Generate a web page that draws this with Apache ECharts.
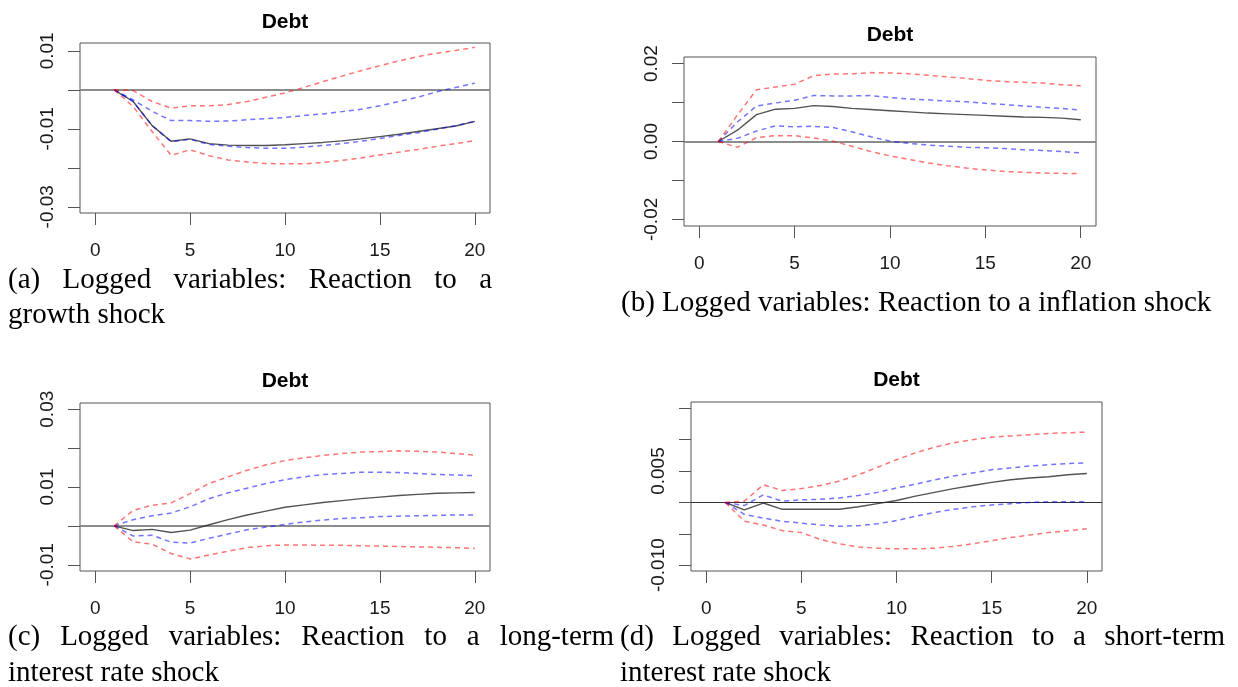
<!DOCTYPE html>
<html>
<head>
<meta charset="utf-8">
<title>Debt impulse responses</title>
<script src="https://cdn.jsdelivr.net/npm/echarts@6.0.0/dist/echarts.min.js"></script>
<style>
  html, body { margin: 0; padding: 0; background: #ffffff; }
  #chart { width: 1238px; height: 687px; }
</style>
</head>
<body>
<div id="chart"></div>
<script>
// Horizon (periods after the shock)
const periods = [1, 2, 3, 4, 5, 6, 7, 8, 9, 10, 11, 12, 13, 14, 15, 16, 17, 18, 19, 20];
const xTicks = [0, 5, 10, 15, 20];

// (a) Response of debt to a growth shock
const growthIrf     = [0, -0.0030, -0.0092, -0.0132, -0.0126, -0.0138, -0.0142, -0.0143, -0.0143, -0.0141, -0.0138, -0.0135, -0.0131, -0.0126, -0.0120, -0.0114, -0.0107, -0.0100, -0.0093, -0.0081];
const growthInnerLo = [0, -0.0030, -0.0092, -0.0133, -0.0127, -0.0140, -0.0145, -0.0148, -0.0150, -0.0150, -0.0147, -0.0143, -0.0138, -0.0132, -0.0125, -0.0117, -0.0110, -0.0101, -0.0092, -0.0081];
const growthInnerHi = [0, -0.0026, -0.0055, -0.0079, -0.0079, -0.0081, -0.0080, -0.0077, -0.0074, -0.0071, -0.0066, -0.0062, -0.0056, -0.0050, -0.0041, -0.0030, -0.0019, -0.0005, 0.0006, 0.0017];
const growthOuterLo = [0, -0.0043, -0.0107, -0.0168, -0.0154, -0.0169, -0.0180, -0.0185, -0.0189, -0.0190, -0.0190, -0.0186, -0.0181, -0.0175, -0.0167, -0.0160, -0.0153, -0.0145, -0.0138, -0.0130];
const growthOuterHi = [0, -0.0002, -0.0030, -0.0047, -0.0041, -0.0041, -0.0038, -0.0030, -0.0019, -0.0008, 0.0006, 0.0021, 0.0035, 0.0049, 0.0062, 0.0074, 0.0085, 0.0094, 0.0101, 0.0109];

// (b) Response of debt to an inflation shock
const inflationIrf     = [0, 0.0029, 0.0069, 0.0083, 0.0085, 0.0092, 0.0090, 0.0085, 0.0082, 0.0079, 0.0076, 0.0073, 0.0071, 0.0069, 0.0067, 0.0065, 0.0063, 0.0062, 0.0060, 0.0056];
const inflationInnerLo = [0, 0.0008, 0.0027, 0.0040, 0.0038, 0.0039, 0.0036, 0.0025, 0.0012, 0.0001, -0.0005, -0.0009, -0.0012, -0.0015, -0.0016, -0.0018, -0.0021, -0.0023, -0.0026, -0.0029];
const inflationInnerHi = [0, 0.0050, 0.0091, 0.0099, 0.0106, 0.0118, 0.0117, 0.0117, 0.0118, 0.0113, 0.0109, 0.0107, 0.0104, 0.0102, 0.0098, 0.0095, 0.0091, 0.0088, 0.0085, 0.0081];
const inflationOuterLo = [0, -0.0015, 0.0010, 0.0015, 0.0015, 0.0009, 0.0001, -0.0012, -0.0026, -0.0037, -0.0046, -0.0055, -0.0062, -0.0068, -0.0073, -0.0077, -0.0079, -0.0081, -0.0082, -0.0082];
const inflationOuterHi = [0, 0.0068, 0.0133, 0.0140, 0.0147, 0.0169, 0.0173, 0.0174, 0.0177, 0.0176, 0.0174, 0.0170, 0.0166, 0.0162, 0.0157, 0.0154, 0.0152, 0.0150, 0.0146, 0.0143];

// (c) Response of debt to a long-term interest rate shock
const longRateIrf     = [0, -0.0012, -0.0009, -0.0017, -0.0011, 0.0003, 0.0016, 0.0028, 0.0038, 0.0048, 0.0054, 0.0060, 0.0065, 0.0070, 0.0074, 0.0078, 0.0081, 0.0084, 0.0085, 0.0086];
const longRateInnerLo = [0, -0.0026, -0.0024, -0.0042, -0.0044, -0.0032, -0.0021, -0.0010, -0.0003, 0.0004, 0.0010, 0.0015, 0.0019, 0.0021, 0.0024, 0.0025, 0.0026, 0.0027, 0.0028, 0.0028];
const longRateInnerHi = [0, 0.0016, 0.0026, 0.0033, 0.0049, 0.0070, 0.0085, 0.0097, 0.0109, 0.0119, 0.0126, 0.0132, 0.0135, 0.0138, 0.0138, 0.0137, 0.0135, 0.0132, 0.0131, 0.0129];
const longRateOuterLo = [0, -0.0041, -0.0047, -0.0071, -0.0085, -0.0075, -0.0065, -0.0056, -0.0051, -0.0049, -0.0049, -0.0050, -0.0050, -0.0051, -0.0052, -0.0053, -0.0054, -0.0055, -0.0056, -0.0058];
const longRateOuterHi = [0, 0.0040, 0.0053, 0.0059, 0.0083, 0.0109, 0.0126, 0.0143, 0.0157, 0.0168, 0.0175, 0.0181, 0.0186, 0.0190, 0.0191, 0.0193, 0.0192, 0.0190, 0.0186, 0.0182];

// (d) Response of debt to a short-term interest rate shock
const shortRateIrf     = [0, -0.0012, -0.0001, -0.0011, -0.0011, -0.0011, -0.0011, -0.0007, -0.0002, 0.0003, 0.0010, 0.0016, 0.0022, 0.0027, 0.0032, 0.0036, 0.0039, 0.0041, 0.0044, 0.0046];
const shortRateInnerLo = [0, -0.0019, -0.0025, -0.0030, -0.0033, -0.0036, -0.0038, -0.0037, -0.0034, -0.0029, -0.0022, -0.0016, -0.0011, -0.0007, -0.0004, -0.0002, 0.0000, 0.0001, 0.0001, 0.0001];
const shortRateInnerHi = [0, -0.0005, 0.0012, 0.0002, 0.0004, 0.0005, 0.0007, 0.0011, 0.0016, 0.0023, 0.0029, 0.0036, 0.0042, 0.0047, 0.0052, 0.0055, 0.0058, 0.0060, 0.0062, 0.0063];
const shortRateOuterLo = [0, -0.0030, -0.0036, -0.0045, -0.0048, -0.0059, -0.0066, -0.0071, -0.0073, -0.0074, -0.0074, -0.0073, -0.0070, -0.0066, -0.0061, -0.0056, -0.0052, -0.0048, -0.0045, -0.0042];
const shortRateOuterHi = [0, 0.0002, 0.0028, 0.0019, 0.0022, 0.0027, 0.0034, 0.0044, 0.0056, 0.0068, 0.0079, 0.0088, 0.0095, 0.0100, 0.0104, 0.0106, 0.0108, 0.0110, 0.0111, 0.0112];

// Y-axis ticks and the subset of them that carry a label
const yTicksA = [-0.03, -0.02, -0.01, 0, 0.01];
const yLabelsA = [-0.03, -0.01, 0.01];
const yTicksB = [-0.02, -0.01, 0, 0.01, 0.02];
const yLabelsB = [-0.02, 0, 0.02];
const yTicksC = [-0.01, 0, 0.01, 0.02, 0.03];
const yLabelsC = [-0.01, 0.01, 0.03];
const yTicksD = [-0.010, -0.005, 0, 0.005, 0.010, 0.015];
const yLabelsD = [-0.010, 0.005];

const panelTitle = 'Debt';
const captions = [
  ['(a) Logged variables: Reaction to a', 'growth shock'],
  ['(b) Logged variables: Reaction to a inflation shock'],
  ['(c) Logged variables: Reaction to a long-term', 'interest rate shock'],
  ['(d) Logged variables: Reaction to a short-term', 'interest rate shock']
];

// ---- layout of the four panels ----
const panels = [
  { grid: { left: 80,  top: 43,  width: 410, height: 170 }, yMin: -0.0316, yMax: 0.0120, ticks: yTicksA, labels: yLabelsA, digits: 2,
    lines: [growthIrf, growthInnerLo, growthInnerHi, growthOuterLo, growthOuterHi], zero: { color: '#8c8c8c', width: 2 } },
  { grid: { left: 684, top: 57,  width: 412, height: 169 }, yMin: -0.0217, yMax: 0.0217, ticks: yTicksB, labels: yLabelsB, digits: 2,
    lines: [inflationIrf, inflationInnerLo, inflationInnerHi, inflationOuterLo, inflationOuterHi], zero: { color: '#8c8c8c', width: 2 } },
  { grid: { left: 80,  top: 403, width: 410, height: 168 }, yMin: -0.0116, yMax: 0.0316, ticks: yTicksC, labels: yLabelsC, digits: 2,
    lines: [longRateIrf, longRateInnerLo, longRateInnerHi, longRateOuterLo, longRateOuterHi], zero: { color: '#8c8c8c', width: 2 } },
  { grid: { left: 691, top: 402, width: 411, height: 169 }, yMin: -0.01093, yMax: 0.01600, ticks: yTicksD, labels: yLabelsD, digits: 3,
    lines: [shortRateIrf, shortRateInnerLo, shortRateInnerHi, shortRateOuterLo, shortRateOuterHi], zero: { color: '#333333', width: 1.2 } }
];

const lineStyles = [
  { color: 'rgba(40,40,40,0.8)', width: 1.4, type: 'solid' },
  { color: 'rgba(0,0,255,0.55)', width: 1.5, type: [5, 4] },
  { color: 'rgba(0,0,255,0.55)', width: 1.5, type: [5, 4] },
  { color: 'rgba(255,0,0,0.55)', width: 1.5, type: [5, 4] },
  { color: 'rgba(255,0,0,0.55)', width: 1.5, type: [5, 4] }
];

const tickFont = { fontFamily: '"Liberation Sans", Arial, Helvetica, sans-serif', fontSize: 19, color: '#1a1a1a' };
const frameColor = '#555555';

const grids = [], xAxes = [], yAxes = [], series = [], graphics = [];

panels.forEach((p, k) => {
  grids.push(Object.assign({ show: true, borderColor: frameColor, borderWidth: 1, backgroundColor: 'transparent', containLabel: false }, p.grid));
  xAxes.push({
    type: 'value', gridIndex: k, min: -0.8, max: 20.8, position: 'bottom',
    axisLine: { show: false, onZero: false },
    splitLine: { show: false },
    axisTick: { show: true, inside: false, length: 12, lineStyle: { color: frameColor, width: 1 }, customValues: xTicks },
    axisLabel: Object.assign({ margin: 28, customValues: xTicks, formatter: v => String(v) }, tickFont)
  });
  yAxes.push({
    type: 'value', gridIndex: k, min: p.yMin, max: p.yMax, position: 'left',
    axisLine: { show: false, onZero: false },
    splitLine: { show: false },
    axisTick: { show: true, inside: false, length: 12, lineStyle: { color: frameColor, width: 1 }, customValues: p.ticks },
    axisLabel: Object.assign({ margin: 23, rotate: 90, customValues: p.labels, formatter: v => Number(v).toFixed(p.digits) }, tickFont)
  });
  p.lines.forEach((vals, j) => {
    const s = {
      type: 'line', xAxisIndex: k, yAxisIndex: k,
      data: periods.map((t, i) => [t, vals[i]]),
      symbol: 'none', smooth: false, silent: true,
      lineStyle: lineStyles[j],
      z: 3
    };
    if (j === 0) {
      s.markLine = {
        silent: true, symbol: 'none', label: { show: false },
        lineStyle: { color: p.zero.color, width: p.zero.width, type: 'solid' },
        data: [{ yAxis: 0 }], z: 2
      };
    }
    series.push(s);
  });
  // panel heading
  graphics.push({
    type: 'text',
    x: p.grid.left + p.grid.width / 2,
    y: [22, 35, 381, 380][k],
    style: { text: panelTitle, align: 'center', verticalAlign: 'middle', fill: '#000',
             font: 'bold 21px "Liberation Sans", Arial, Helvetica, sans-serif' }
  });
});

// ---- captions below each panel (first line justified like the typeset text) ----
const captionFont = '29px "Liberation Serif", "Times New Roman", serif';
const measureCtx = document.createElement('canvas').getContext('2d');
measureCtx.font = captionFont;

function placeLine(text, left, right, y, justify) {
  const words = text.split(' ');
  if (!justify || words.length < 2) {
    graphics.push({ type: 'text', x: left, y: y, style: { text: text, font: captionFont, fill: '#000', align: 'left', verticalAlign: 'middle' } });
    return;
  }
  const widths = words.map(w => measureCtx.measureText(w).width);
  const total = widths.reduce((a, b) => a + b, 0);
  const gap = (right - left - total) / (words.length - 1);
  let x = left;
  words.forEach((w, i) => {
    graphics.push({ type: 'text', x: x, y: y, style: { text: w, font: captionFont, fill: '#000', align: 'left', verticalAlign: 'middle' } });
    x += widths[i] + gap;
  });
}

const captionBoxes = [
  { left: 8,   right: 492,  rows: [280, 315] },
  { left: 621, right: 1212, rows: [303] },
  { left: 8,   right: 614,  rows: [637, 673] },
  { left: 620, right: 1225, rows: [637, 673] }
];
captions.forEach((lines, k) => {
  const b = captionBoxes[k];
  lines.forEach((txt, r) => placeLine(txt, b.left, b.right, b.rows[r], r < lines.length - 1));
});

const chart = echarts.init(document.getElementById('chart'), null, { renderer: 'canvas' });
chart.setOption({
  animation: false,
  backgroundColor: '#ffffff',
  grid: grids,
  xAxis: xAxes,
  yAxis: yAxes,
  series: series,
  graphic: graphics
});
</script>
</body>
</html>
